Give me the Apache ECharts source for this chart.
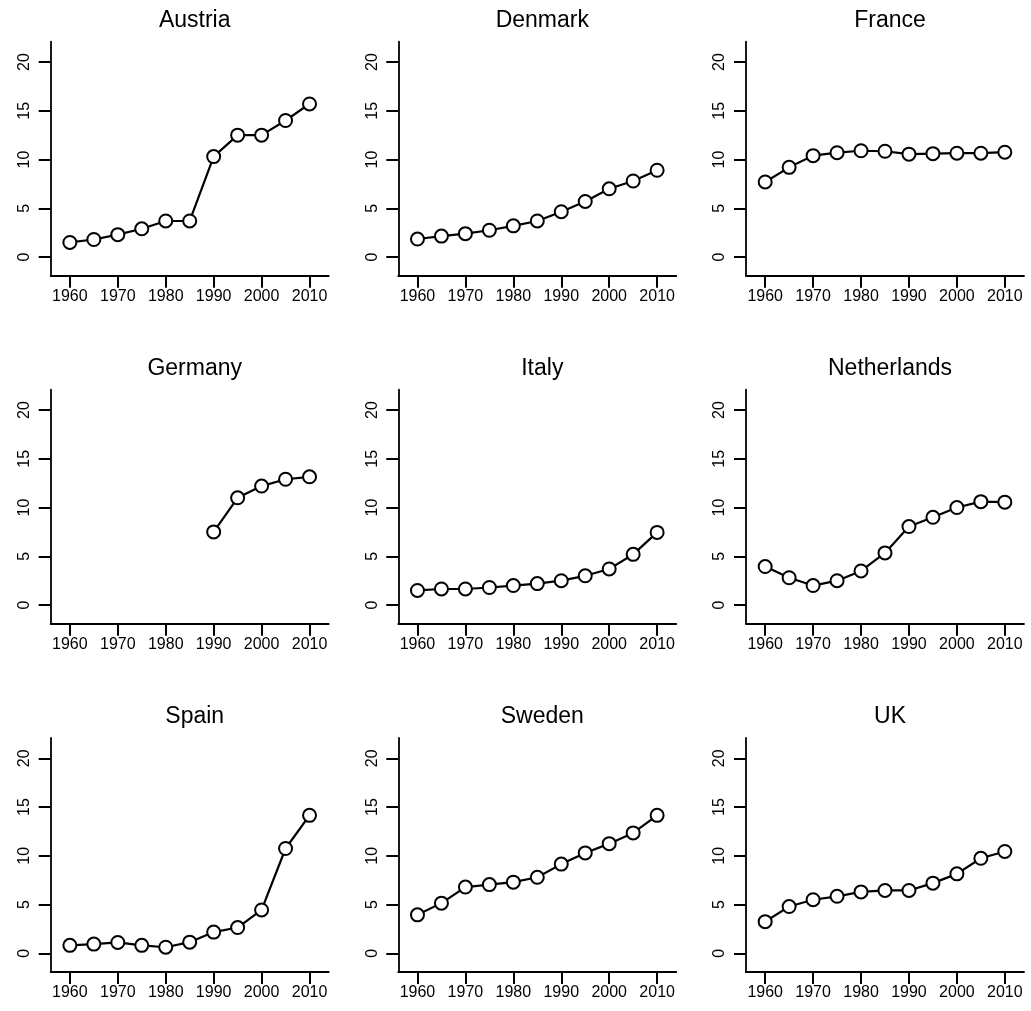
<!DOCTYPE html>
<html>
<head>
<meta charset="utf-8">
<script src="https://cdn.jsdelivr.net/npm/echarts@6/dist/echarts.min.js"></script>
<style>
html,body{margin:0;padding:0;background:#fff;}
#chart{width:1031px;height:1011px;}
</style>
</head>
<body>
<div id="chart"></div>
<script>
// ---- data ----
const years = [1960, 1965, 1970, 1975, 1980, 1985, 1990, 1995, 2000, 2005, 2010];
const countries = ["Austria", "Denmark", "France", "Germany", "Italy", "Netherlands", "Spain", "Sweden", "UK"];
const austria     = [1.5, 1.8, 2.3, 2.9, 3.7, 3.7, 10.3, 12.5, 12.5, 14.0, 15.7];
const denmark     = [1.85, 2.15, 2.4, 2.75, 3.2, 3.7, 4.65, 5.7, 7.0, 7.8, 8.9];
const france      = [7.7, 9.2, 10.4, 10.7, 10.9, 10.85, 10.55, 10.6, 10.65, 10.65, 10.75];
const germany     = [null, null, null, null, null, null, 7.5, 11.0, 12.2, 12.9, 13.15];
const italy       = [1.5, 1.65, 1.65, 1.8, 2.0, 2.2, 2.5, 3.0, 3.7, 5.2, 7.45];
const netherlands = [3.95, 2.8, 2.0, 2.5, 3.5, 5.35, 8.05, 9.0, 10.0, 10.6, 10.55];
const spain       = [0.82, 0.95, 1.12, 0.82, 0.63, 1.15, 2.18, 2.65, 4.45, 10.75, 14.15];
const sweden      = [3.95, 5.15, 6.8, 7.05, 7.3, 7.8, 9.15, 10.3, 11.25, 12.35, 14.15];
const uk          = [3.25, 4.8, 5.5, 5.85, 6.3, 6.45, 6.45, 7.2, 8.15, 9.75, 10.45];
const xTicks = [1960, 1970, 1980, 1990, 2000, 2010];
const yTicks = [0, 5, 10, 15, 20];

const seriesValues = [austria, denmark, france, germany, italy, netherlands, spain, sweden, uk];

// ---- layout ----
const colLeft = [50.7, 398.3, 746];
const rowTop = [41.7, 389.7, 738];
const plotW = 278, plotH = 234;
const xMin = 1956, xMax = 2014;
const yMin = -1.91, yMax = 22.08;
const tickLen = 12;
const font = '"Liberation Sans", Arial, Helvetica, sans-serif';
const black = {color: '#000', width: 1.8};
const tickStyle = {color: '#000', width: 2};

const grids = [], xAxes = [], yAxes = [], series = [], titles = [];
countries.forEach((name, i) => {
  const r = Math.floor(i / 3), c = i % 3;
  grids.push({left: colLeft[c], top: rowTop[r], width: plotW, height: plotH});
  xAxes.push({
    type: 'value', gridIndex: i, min: xMin, max: xMax,
    axisLine: {show: true, onZero: false, lineStyle: black},
    axisTick: {show: true, inside: false, length: tickLen, customValues: xTicks, lineStyle: tickStyle},
    axisLabel: {show: true, customValues: xTicks, margin: 13, color: '#000', fontSize: 16, fontFamily: font,
      formatter: v => String(v)},
    splitLine: {show: false}
  });
  yAxes.push({
    type: 'value', gridIndex: i, min: yMin, max: yMax,
    axisLine: {show: true, onZero: false, lineStyle: black},
    axisTick: {show: true, inside: false, length: tickLen, customValues: yTicks, lineStyle: tickStyle},
    axisLabel: {show: true, customValues: yTicks, rotate: 90, margin: 18, color: '#000', fontSize: 16, fontFamily: font,
      formatter: v => String(v)},
    splitLine: {show: false}
  });
  titles.push({
    text: name,
    left: colLeft[c] + plotW / 2,
    top: rowTop[r] - 38,
    textAlign: 'center',
    textStyle: {fontSize: 23, fontWeight: 'normal', color: '#000', fontFamily: font}
  });
  const vals = seriesValues[i];
  series.push({
    type: 'line', name: name, xAxisIndex: i, yAxisIndex: i,
    data: years.map((y, j) => [y, vals[j]]).filter(p => p[1] !== null),
    symbol: 'emptyCircle', symbolSize: 13, showAllSymbol: true,
    lineStyle: {color: '#000', width: 2.2},
    itemStyle: {color: '#000', borderColor: '#000', borderWidth: 2},
    clip: false, silent: true
  });
});

const chart = echarts.init(document.getElementById('chart'), null, {renderer: 'canvas'});
chart.setOption({
  animation: false,
  backgroundColor: '#fff',
  title: titles,
  grid: grids,
  xAxis: xAxes,
  yAxis: yAxes,
  series: series
});
</script>
</body>
</html>
